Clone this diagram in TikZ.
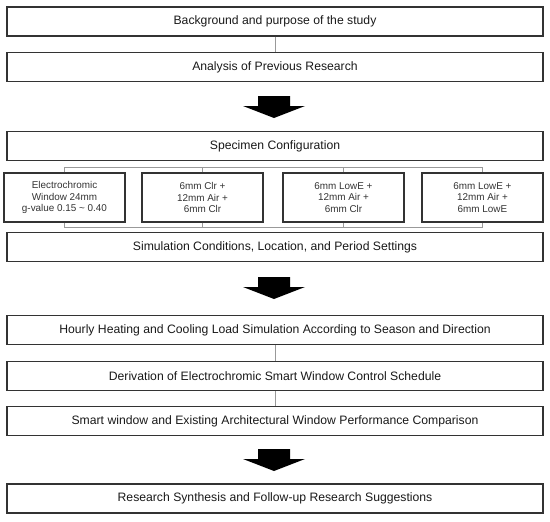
\documentclass[tikz,border=0pt]{standalone}
\usepackage{fontspec}
\setmainfont{Liberation Sans}
\begin{document}
\begin{tikzpicture}[x=1pt,y=-1pt,
  wide/.style={draw=black!80, line width=1.2pt, minimum width=536pt, minimum height=29pt, inner sep=0pt, font=\fontsize{12.2}{14}\selectfont, text=black!90},
  small/.style={draw=black!80, line width=1.2pt, minimum width=121pt, minimum height=49pt, inner sep=0pt, align=center, font=\fontsize{9.9}{11.5}\selectfont, text=black!80},
  conn/.style={draw=black!40, line width=1pt},
  bigarrow/.pic={\fill[black] (-16,0) -- (16,0) -- (16,10) -- (31,10) -- (0,22) -- (-31,10) -- (-16,10) -- cycle;}
]
\useasboundingbox (0,0) rectangle (550,522);
\node[wide] (b1) at (275,21.5) {Background and purpose of the study};
\node[wide] (b2) at (275,67) {Analysis of Previous Research};
\node[wide] (spec) at (275,146) {Specimen Configuration};
\node[small] (s1) at (64.5,197.5) {Electrochromic\\Window 24mm\\g-value 0.15 \textasciitilde{} 0.40};
\node[small] (s2) at (202.5,197.5) {6mm Clr +\\12mm Air +\\6mm Clr};
\node[small] (s3) at (343.5,197.5) {6mm LowE +\\12mm Air +\\6mm Clr};
\node[small] (s4) at (482.5,197.5) {6mm LowE +\\12mm Air +\\6mm LowE};
\node[wide] (sim) at (275,247) {Simulation Conditions, Location, and Period Settings};
\node[wide] (hour) at (275,330) {Hourly Heating and Cooling Load Simulation According to Season and Direction};
\node[wide] (deriv) at (275,376) {Derivation of Electrochromic Smart Window Control Schedule};
\node[wide] (smart) at (275,421) {Smart window and Existing Architectural Window Performance Comparison};
\node[wide] (res) at (275,498.5) {Research Synthesis and Follow-up Research Suggestions};
\coordinate (topbar) at (0,167);
\coordinate (botbar) at (0,227);
\draw[conn] (b1) -- (b2);
\draw[conn] (hour) -- (deriv);
\draw[conn] (deriv) -- (smart);
\draw[conn] (s1.north) -- (s1.north |- topbar) -- (s4.north |- topbar) -- (s4.north);
\draw[conn] (s2.north) -- (s2.north |- topbar);
\draw[conn] (s3.north) -- (s3.north |- topbar);
\draw[conn] (s1.south) -- (s1.south |- botbar) -- (s4.south |- botbar) -- (s4.south);
\draw[conn] (s2.south) -- (s2.south |- botbar);
\draw[conn] (s3.south) -- (s3.south |- botbar);
\pic at (274,96) {bigarrow};
\pic at (274,277) {bigarrow};
\pic at (274,449) {bigarrow};
\end{tikzpicture}
\end{document}
